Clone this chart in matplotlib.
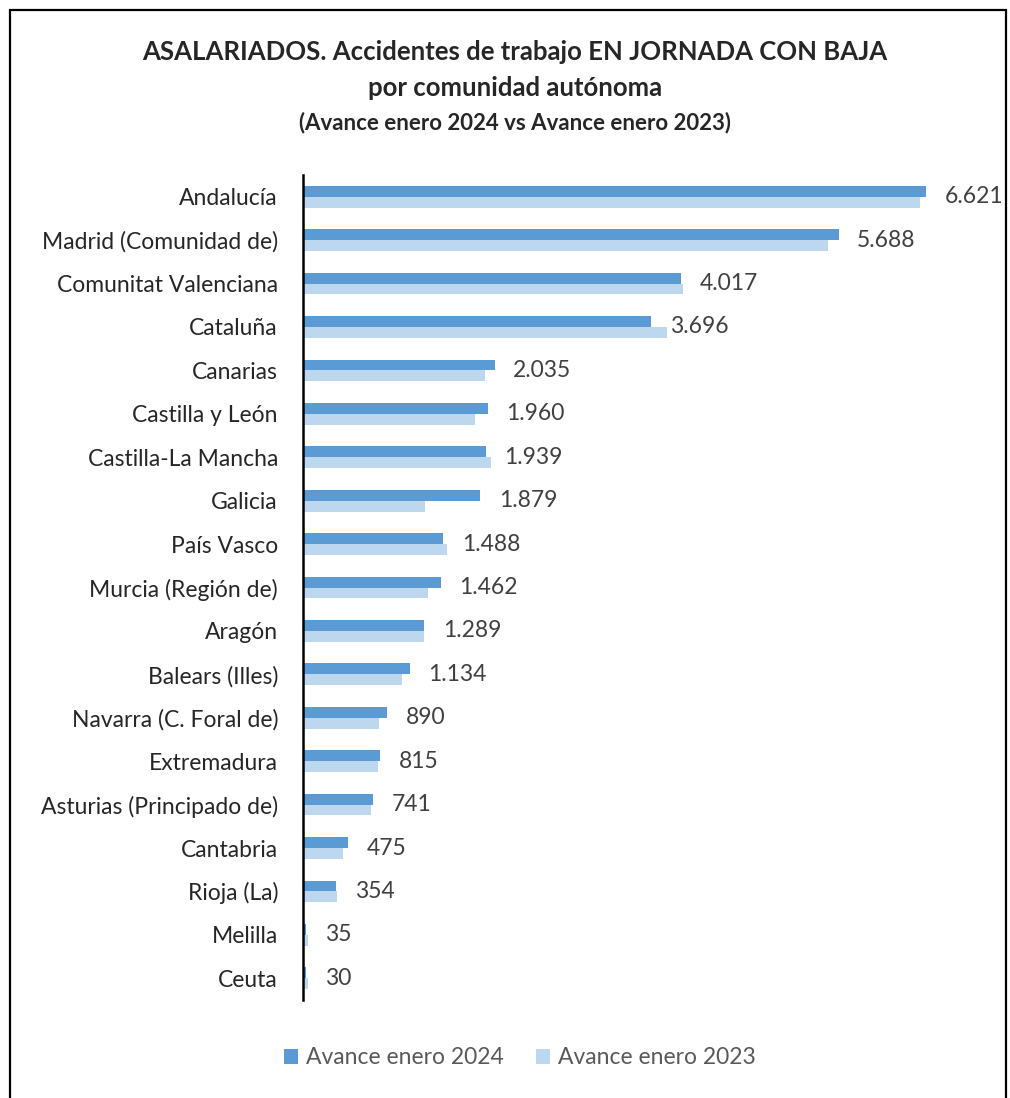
import matplotlib
matplotlib.use("Agg")
import matplotlib.pyplot as plt
from matplotlib.patches import Rectangle

plt.rcParams['font.family'] = ['Lato', 'DejaVu Sans']

regions = ["Andalucía", "Madrid (Comunidad de)", "Comunitat Valenciana", "Cataluña",
           "Canarias", "Castilla y León", "Castilla-La Mancha", "Galicia", "País Vasco",
           "Murcia (Región de)", "Aragón", "Balears (Illes)", "Navarra (C. Foral de)",
           "Extremadura", "Asturias (Principado de)", "Cantabria", "Rioja (La)",
           "Melilla", "Ceuta"]
values_2024 = [6621, 5688, 4017, 3696, 2035, 1960, 1939, 1879, 1488, 1462, 1289,
               1134, 890, 815, 741, 475, 354, 35, 30]
values_2023 = [6550, 5575, 4035, 3865, 1935, 1830, 2000, 1300, 1525, 1330, 1285,
               1055, 810, 800, 722, 428, 365, 50, 50]

c2024 = "#5B9BD5"
c2023 = "#BDD7EE"

W, H = 1010, 1098
fig = plt.figure(figsize=(W / 100, H / 100), dpi=100)

# outer chart frame
fig.patches.append(Rectangle((10 / W, -0.05), 996 / W, 1.05 - 10 / H, transform=fig.transFigure,
                             fill=False, edgecolor="black", linewidth=1.6))

ax = fig.add_axes([303 / W, 1 - 1000 / H, 697 / W, (1000 - 175) / H])

y = list(range(len(regions)))
h = 0.25
ax.barh([i - h / 2 for i in y], values_2024, height=h, color=c2024, label="Avance enero 2024")
ax.barh([i + h / 2 for i in y], values_2023, height=h, color=c2023, label="Avance enero 2023")

for i, v in enumerate(values_2024):
    txt = f"{v:,}".replace(",", ".")
    ax.annotate(txt, (v, i), xytext=(13.5, 0), textcoords="offset points",
                ha="left", va="center", fontsize=16.5, color="#404040")

ax.set_xlim(0, 7403)
ax.set_ylim(len(regions) - 0.5, -0.5)
ax.set_yticks(y)
ax.set_yticklabels(regions, fontsize=16.5, color="#262626")
ax.tick_params(axis="y", length=0, pad=18)
ax.set_xticks([])
for s in ["top", "right", "bottom"]:
    ax.spines[s].set_visible(False)
ax.spines["left"].set_linewidth(1.8)
ax.spines["left"].set_color("black")

fig.text(515 / W, 1 - 52 / H, "ASALARIADOS. Accidentes de trabajo EN JORNADA CON BAJA",
         ha="center", va="center", fontsize=18.5, fontweight="bold", color="#262626")
fig.text(515 / W, 1 - 88 / H, "por comunidad autónoma",
         ha="center", va="center", fontsize=18.5, fontweight="bold", color="#262626")
fig.text(515 / W, 1 - 123 / H, "(Avance enero 2024 vs Avance enero 2023)",
         ha="center", va="center", fontsize=16, fontweight="bold", color="#262626")

leg = fig.legend(loc="center", bbox_to_anchor=(520 / W, 1 - 1058 / H), ncol=2, frameon=False,
                 fontsize=16.5, handlelength=0.62, handleheight=0.62, columnspacing=1.4,
                 handletextpad=0.35)
for t in leg.get_texts():
    t.set_color("#595959")

fig.savefig("out.png", dpi=100)
